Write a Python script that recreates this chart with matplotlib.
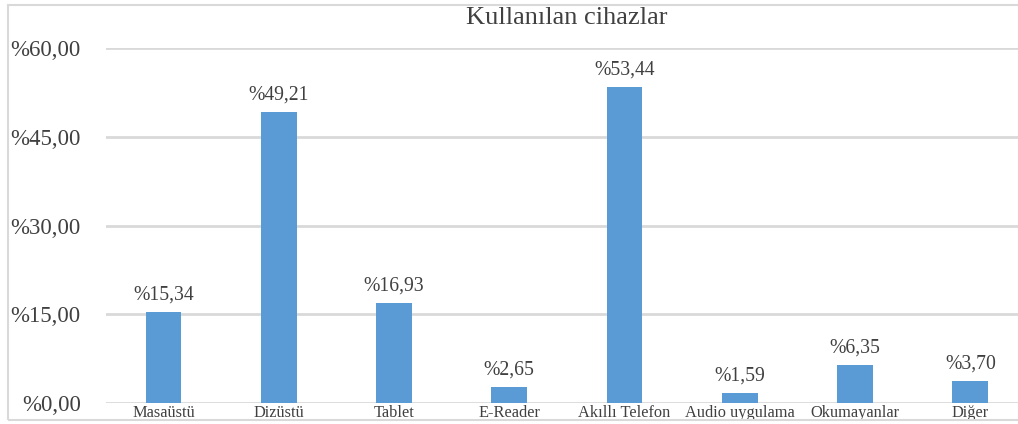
import matplotlib.pyplot as plt
from matplotlib.patches import Rectangle

# données
kategoriler = ["Masaüstü", "Dizüstü", "Tablet", "E-Reader", "Akıllı Telefon",
               "Audio uygulama", "Okumayanlar", "Diğer"]
oranlar = [15.34, 49.21, 16.93, 2.65, 53.44, 1.59, 6.35, 3.70]
y_ticks = [0, 15, 30, 45, 60]

plt.rcParams['font.family'] = ['Liberation Serif', 'DejaVu Serif']
text_color = "#404040"
grid_color = "#D9D9D9"
bar_color = "#5B9BD5"

W, H = 1018, 424
fig = plt.figure(figsize=(W / 100, H / 100), dpi=100)

# cadre du graphique (coupé à droite comme dans l'original)
fig.patches.append(Rectangle((8 / W, 4 / H), 1.2, (420 - 5) / H,
                             transform=fig.transFigure, fill=False,
                             edgecolor=grid_color, linewidth=1.5))

ax = fig.add_axes([105.8 / W, (H - 402.7) / H, 922.2 / W, 354.4 / H])
x = list(range(len(kategoriler)))
bars = ax.bar(x, oranlar, width=0.31, color=bar_color, zorder=3)

ax.set_xlim(-0.5, len(kategoriler) - 0.5)
ax.set_ylim(0, 60)
ax.set_yticks(y_ticks)
ax.set_yticklabels(["%{:.2f}".format(v).replace(".", ",") for v in y_ticks],
                   fontsize=16.5, color=text_color)
ax.set_xticks(x)
ax.set_xticklabels(kategoriler, fontsize=11.8, color=text_color)
ax.tick_params(axis='y', length=0, pad=18)
ax.tick_params(axis='x', length=0, pad=2)

for s in ax.spines.values():
    s.set_visible(False)
ax.yaxis.grid(True, color=grid_color, linewidth=2, zorder=0)
ax.set_axisbelow(True)

for b, v in zip(bars, oranlar):
    ax.annotate("%{:.2f}".format(v).replace(".", ","),
                (b.get_x() + b.get_width() / 2, v), xytext=(0, 5.5),
                textcoords="offset points", ha="center", va="bottom",
                fontsize=14.2, color=text_color)

fig.text((105.8 + 1028) / 2 / W, 1 - 18.5 / H, "Kullanılan cihazlar",
         ha="center", va="center", fontsize=19, color=text_color)

fig.savefig("out.png", dpi=100)
